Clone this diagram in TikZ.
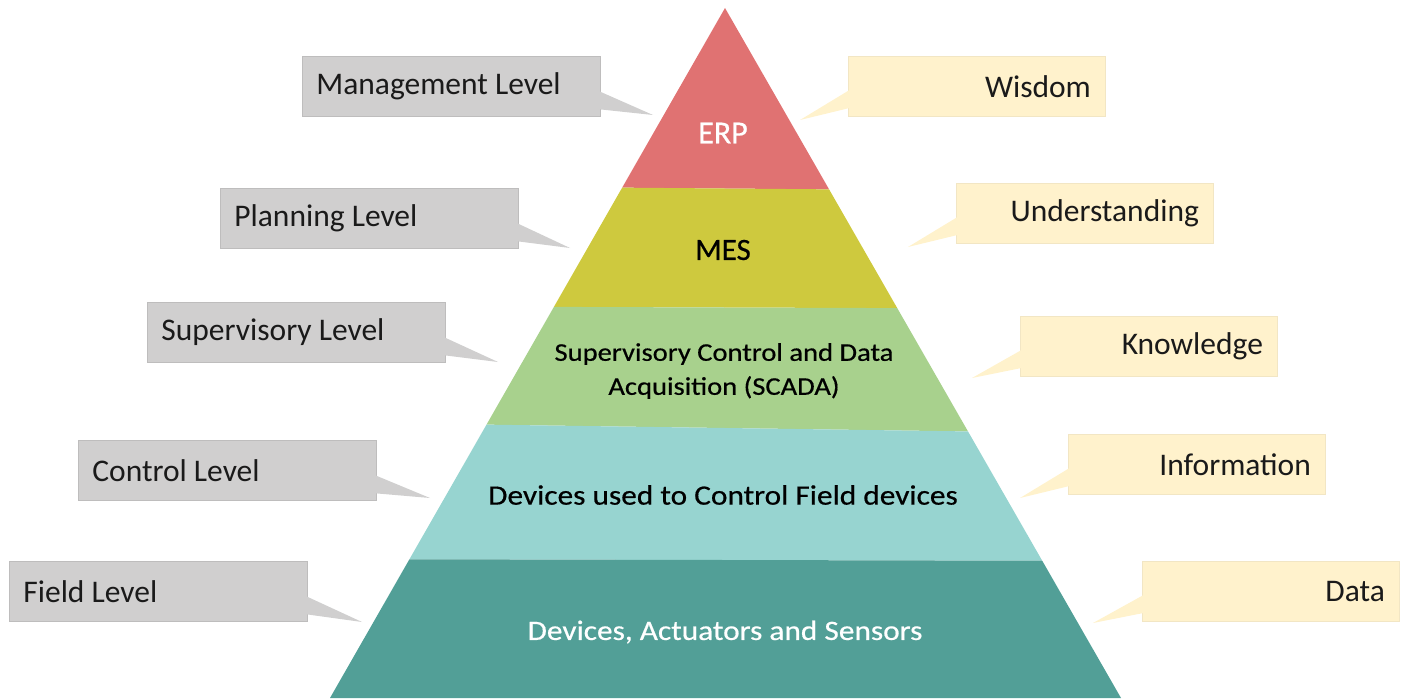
\documentclass[tikz,border=0pt]{standalone}
\usepackage{fontspec}
\setmainfont{Carlito}
\newfontfamily\tierfont[FakeStretch=1.12, FakeBold=0.5]{Carlito}
\newfontfamily\tierplain[FakeBold=0.5]{Carlito}
\usetikzlibrary{calc}
\definecolor{erpred}{HTML}{E07272}
\definecolor{mesyel}{HTML}{CEC93E}
\definecolor{scadagreen}{HTML}{A8D18D}
\definecolor{ctrlteal}{HTML}{97D4D0}
\definecolor{fieldteal}{HTML}{529F97}
\definecolor{boxgray}{HTML}{D0CFCF}
\definecolor{boxgrayedge}{HTML}{BEBDBD}
\definecolor{cream}{HTML}{FFF2CC}
\definecolor{creamedge}{HTML}{F2E6C4}
\definecolor{inktext}{HTML}{1A1A1A}
\begin{document}
\begin{tikzpicture}[x=1pt,y=-1pt,
  levelbox/.style={fill=boxgray, draw=boxgrayedge, line width=0.8pt,
    minimum width=298pt, minimum height=60pt, inner sep=0pt,
    anchor=north west, font=\fontsize{31.5}{36}\selectfont, text=inktext},
  dikwbox/.style={fill=cream, draw=creamedge, line width=0.8pt,
    minimum width=257pt, minimum height=60pt, inner sep=0pt,
    anchor=north west, font=\fontsize{31.5}{36}\selectfont, text=inktext},
  levelwedge/.style={fill=boxgray},
  dikwwedge/.style={fill=cream},
  tiertext/.style={font=\tierfont\fontsize{28}{34}\selectfont, align=center}
]
\useasboundingbox (0,0) rectangle (1404,698);

% pyramid tiers, clipped to the triangle
\begin{scope}
  \clip (725,8) -- (330,698) -- (1121,698) -- cycle;
  \fill[erpred]     (300,0)   -- (1150,0)   -- (1150,192) -- (300,185) -- cycle;
  \fill[mesyel]     (300,185) -- (1150,192) -- (1150,309) -- (300,306) -- cycle;
  \fill[scadagreen] (300,306) -- (1150,309) -- (1150,434) -- (300,422) -- cycle;
  \fill[ctrlteal]   (300,422) -- (1150,434) -- (1150,561) -- (300,559) -- cycle;
  \fill[fieldteal]  (300,559) -- (1150,561) -- (1150,700) -- (300,700) -- cycle;
\end{scope}

% tier captions
\node[tiertext, text=white, font=\tierplain\fontsize{32}{38}\selectfont] (erp) at (723,133) {ERP};
\node[tiertext, text=black, font=\tierplain\fontsize{31}{38}\selectfont] (mes) at (723,250) {MES};
\node[tiertext, text=black, font=\tierfont\fontsize{25.5}{34}\selectfont] (scada) at (724,371)
  {Supervisory Control and Data\\Acquisition (SCADA)};
\node[tiertext, text=black] (ctrl) at (723,495) {Devices used to Control Field devices};
\node[tiertext, text=white] (field) at (725,632) {Devices, Actuators and Sensors};

% level callouts (left)
\coordinate (tipM) at (653,115);
\coordinate (tipP) at (570,248);
\coordinate (tipS) at (498,362);
\coordinate (tipC) at (430,498);
\coordinate (tipF) at (362,622);
\foreach \nm/\x/\y/\tip/\txt in {
    mgmt/302/56/tipM/Management Level,
    plan/220/188/tipP/Planning Level,
    sup/147/302/tipS/Supervisory Level,
    ctl/78/440/tipC/Control Level,
    fld/9/561/tipF/Field Level}{
  \node[levelbox] (\nm) at (\x,\y) {\makebox[270pt][l]{\txt}};
  \fill[levelwedge] ($(\nm.south east)+(-1.5,-25.5)$) -- (\tip) -- ($(\nm.south east)+(-1.5,-7.5)$) -- cycle;
}

% knowledge callouts (right)
\coordinate (tipW) at (800,120);
\coordinate (tipU) at (908,247);
\coordinate (tipK) at (972,378);
\coordinate (tipI) at (1020,498);
\coordinate (tipD) at (1093,623);
\foreach \nm/\x/\y/\tip/\txt in {
    wis/848/56/tipW/Wisdom,
    und/956/183/tipU/Understanding,
    kno/1020/316/tipK/Knowledge,
    inf/1068/434/tipI/Information,
    dat/1142/561/tipD/Data}{
  \node[dikwbox] (\nm) at (\x,\y) {\makebox[228pt][r]{\txt}};
  \fill[dikwwedge] ($(\nm.north west)+(1.5,34)$) -- (\tip) -- ($(\nm.north west)+(1.5,52)$) -- cycle;
}
\end{tikzpicture}
\end{document}
